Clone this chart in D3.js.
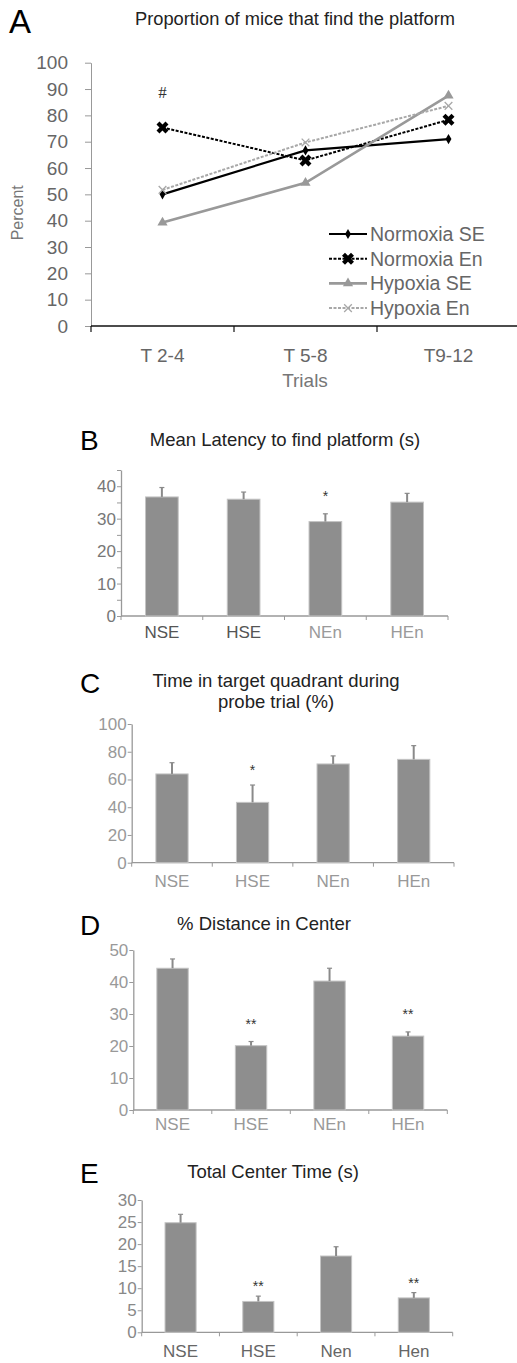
<!DOCTYPE html>
<html>
<head>
<meta charset="utf-8">
<script src="https://cdn.jsdelivr.net/npm/d3@7"></script>
<style>
  body { margin: 0; background: #fff; }
  svg { display: block; font-family: "Liberation Sans", Arial, Helvetica, sans-serif; }
</style>
</head>
<body>
<div id="chart"></div>
<script>
// panel A data
const trials = ['T 2-4', 'T 5-8', 'T9-12']
const percentTicks = [0, 10, 20, 30, 40, 50, 60, 70, 80, 90, 100]
const normoxiaSE = [50, 66.7, 71]
const normoxiaEn = [75.4, 62.9, 78.3]
const hypoxiaSE = [39.3, 54.4, 87.5]
const hypoxiaEn = [51.7, 69.7, 83.6]
const seriesNames = ['Normoxia SE', 'Normoxia En', 'Hypoxia SE', 'Hypoxia En']

// panels B-E data
const groups = ['NSE', 'HSE', 'NEn', 'HEn']
const groupsE = ['NSE', 'HSE', 'Nen', 'Hen']
const latencyMean = [36.7, 36.0, 29.1, 35.1]
const latencyErr = [2.9, 2.2, 2.4, 2.7]
const latencySig = ['', '', '*', '']
const latencyTicks = [0, 5, 10, 15, 20, 25, 30, 35, 40, 45]
const quadrantMean = [64, 43.5, 71.2, 74.5]
const quadrantErr = [8.1, 12.5, 5.8, 9.9]
const quadrantSig = ['', '*', '', '']
const quadrantTicks = [0, 20, 40, 60, 80, 100]
const distanceMean = [44.3, 20.1, 40.3, 23.1]
const distanceErr = [2.9, 1.3, 4.0, 1.3]
const distanceSig = ['', '**', '', '**']
const distanceTicks = [0, 10, 20, 30, 40, 50]
const centerMean = [24.85, 7.0, 17.3, 7.8]
const centerErr = [1.9, 1.2, 2.1, 1.2]
const centerSig = ['', '**', '', '**']
const centerTicks = [0, 5, 10, 15, 20, 25, 30]

const W = 517
const H = 1363
const svg = d3.select('#chart').append('svg')
  .attr('width', W)
  .attr('height', H)

// ---------- panel A ----------
const xA = d3.scaleBand().domain(trials).range([91, 520])
const yA = d3.scaleLinear().domain([0, 100]).range([326, 62.7])
const cx = d => xA(d) + xA.bandwidth() / 2

svg.append('text').attr('x', 9).attr('y', 33)
  .style('font-size', '33px').text('A')
svg.append('text').attr('x', 295).attr('y', 25)
  .attr('text-anchor', 'middle').style('font-size', '18.3px').style('fill', '#222')
  .text('Proportion of mice that find the platform')

let yAxisA = svg.append('g').attr('transform', 'translate(91,0)')
  .call(d3.axisLeft(yA).tickValues(percentTicks).tickSize(6).tickPadding(17).tickSizeOuter(0))
yAxisA.select('.domain').attr('stroke', '#999')
yAxisA.selectAll('.tick line').attr('stroke', '#999')
yAxisA.selectAll('.tick text').style('font-size', '19px').style('fill', '#666')
  .style('font-family', '"Liberation Sans", Arial, sans-serif')

// x axis with ticks at band edges
svg.append('line').attr('x1', 91).attr('x2', W).attr('y1', yA(0)).attr('y2', yA(0))
  .attr('stroke', '#111').attr('stroke-width', 1.5)
svg.selectAll('.xtickA').data(trials).enter().append('line')
  .attr('x1', d => xA(d)).attr('x2', d => xA(d))
  .attr('y1', yA(0)).attr('y2', yA(0) + 6)
  .attr('stroke', '#111').attr('stroke-width', 1.2)
svg.selectAll('.xlabA').data(trials).enter().append('text')
  .attr('x', cx).attr('y', 362).attr('text-anchor', 'middle')
  .style('font-size', '19px').style('fill', '#666').text(d => d)
svg.append('text').attr('x', 305).attr('y', 387).attr('text-anchor', 'middle')
  .style('font-size', '19px').style('fill', '#777').text('Trials')
svg.append('text').attr('transform', 'translate(23,' + yA(43) + ') rotate(-90)')
  .attr('text-anchor', 'middle').style('font-size', '16px').style('fill', '#777').text('Percent')
svg.append('text').attr('x', cx(trials[0])).attr('y', yA(86.5)).attr('text-anchor', 'middle')
  .style('font-size', '17px').style('font-family', '"Liberation Serif", serif').style('fill', '#333').text('#')

const series = [
  { name: seriesNames[0], values: normoxiaSE, color: '#000', dash: null, width: 2.2, marker: 'diamond' },
  { name: seriesNames[1], values: normoxiaEn, color: '#000', dash: '3,1.5', width: 2, marker: 'boldx' },
  { name: seriesNames[2], values: hypoxiaSE, color: '#999', dash: null, width: 2.6, marker: 'triangle' },
  { name: seriesNames[3], values: hypoxiaEn, color: '#a8a8a8', dash: '3,1.5', width: 2, marker: 'x' }
]

function drawMarker (g, type, color) {
  if (type === 'diamond') {
    g.append('path').attr('d', d3.symbol(d3.symbolDiamond, 30)())
      .attr('fill', color)
  } else if (type === 'boldx') {
    g.append('path').attr('d', d3.symbol(d3.symbolCross, 90)())
      .attr('transform', 'rotate(45)').attr('fill', color)
  } else if (type === 'triangle') {
    g.append('path').attr('d', d3.symbol(d3.symbolTriangle, 45)())
      .attr('fill', color)
  } else {
    g.append('path').attr('d', d3.symbol(d3.symbolX, 40)())
      .attr('fill', 'none').attr('stroke', color).attr('stroke-width', 1.3)
  }
}

let line = d3.line().x((d, i) => cx(trials[i])).y(d => yA(d))
series.forEach(function (s) {
  svg.append('path').datum(s.values)
    .attr('d', line)
    .attr('fill', 'none')
    .attr('stroke', s.color)
    .attr('stroke-width', s.width)
    .attr('stroke-dasharray', s.dash)
  s.values.forEach(function (v, i) {
    let m = svg.append('g').attr('transform', 'translate(' + cx(trials[i]) + ',' + yA(v) + ')')
    drawMarker(m, s.marker, s.color)
  })
})

// legend
series.forEach(function (s, i) {
  let ly = 234 + i * 24.7
  let lg = svg.append('g').attr('transform', 'translate(0,' + ly + ')')
  lg.append('line').attr('x1', 329).attr('x2', 367).attr('y1', 0).attr('y2', 0)
    .attr('stroke', s.color).attr('stroke-width', s.width).attr('stroke-dasharray', s.dash)
  let m = lg.append('g').attr('transform', 'translate(348,0)')
  drawMarker(m, s.marker, s.color)
  lg.append('text').attr('x', 370).attr('y', 7).style('font-size', '19.5px')
    .style('fill', '#666').text(s.name)
})

// ---------- bar panels ----------
function barPanel (cfg) {
  let g = svg.append('g')
  let x = d3.scaleBand().domain(cfg.groups).range([cfg.left, cfg.right])
  let y = d3.scaleLinear().domain([0, cfg.max]).range([cfg.bottom, cfg.top])
  let bw = x.bandwidth()

  g.append('text').attr('x', 80).attr('y', cfg.letterY)
    .style('font-size', '28px').text(cfg.letter)
  cfg.title.forEach(function (t, i) {
    g.append('text').attr('x', cfg.titleX).attr('y', cfg.titleY + i * 21.5)
      .attr('text-anchor', 'middle').style('font-size', '18.5px').style('fill', '#222').text(t)
  })

  let ax = g.append('g').attr('transform', 'translate(' + cfg.left + ',0)')
    .call(d3.axisLeft(y).tickValues(cfg.ticks).tickSize(4).tickPadding(1).tickSizeOuter(0)
      .tickFormat(d => (d % cfg.labelStep === 0 ? d : '')))
  ax.select('.domain').attr('stroke', '#999').attr('stroke-width', 1.3)
  ax.selectAll('.tick line').attr('stroke', '#999')
  ax.selectAll('.tick text').style('font-size', '17px').style('fill', cfg.tickColor)
    .style('font-family', '"Liberation Sans", Arial, sans-serif')

  g.append('line').attr('x1', cfg.left).attr('x2', cfg.right)
    .attr('y1', cfg.bottom).attr('y2', cfg.bottom)
    .attr('stroke', '#999').attr('stroke-width', 1.3)
  g.selectAll('.xt').data(cfg.groups.concat(['end'])).enter().append('line')
    .attr('x1', d => (d === 'end' ? cfg.right : x(d)))
    .attr('x2', d => (d === 'end' ? cfg.right : x(d)))
    .attr('y1', cfg.bottom).attr('y2', cfg.bottom + 4)
    .attr('stroke', '#999')

  g.selectAll('.bar').data(cfg.mean).enter().append('rect')
    .attr('x', (d, i) => x(cfg.groups[i]) + bw * 0.3)
    .attr('width', bw * 0.4)
    .attr('y', d => y(d))
    .attr('height', d => cfg.bottom - y(d))
    .attr('fill', '#8e8e8e')
    .attr('stroke', '#c4c4c4')
    .attr('stroke-width', 1)

  cfg.mean.forEach(function (m, i) {
    let c = x(cfg.groups[i]) + bw / 2
    let top = y(m + cfg.err[i])
    g.append('line').attr('x1', c).attr('x2', c).attr('y1', y(m)).attr('y2', top)
      .attr('stroke', '#8a8a8a').attr('stroke-width', 2)
    g.append('line').attr('x1', c - 2.5).attr('x2', c + 2.5).attr('y1', top).attr('y2', top)
      .attr('stroke', '#8a8a8a').attr('stroke-width', 1.2)
    if (cfg.sig[i]) {
      g.append('text').attr('x', c).attr('y', top - cfg.sigGap).attr('text-anchor', 'middle')
        .style('font-size', '14px').style('fill', '#333').text(cfg.sig[i])
    }
  })

  g.selectAll('.xl').data(cfg.groups).enter().append('text')
    .attr('x', d => x(d) + bw / 2).attr('y', cfg.labelY).attr('text-anchor', 'middle')
    .style('font-size', '17px').style('fill', (d, i) => cfg.labelColors[i]).text(d => d)
}

barPanel({
  letter: 'B', letterY: 450, title: ['Mean Latency to find platform (s)'], titleX: 285, titleY: 446,
  groups: groups, mean: latencyMean, err: latencyErr, sig: latencySig,
  ticks: latencyTicks, labelStep: 10, max: 45,
  left: 121, right: 448, bottom: 616, top: 470, labelY: 638, sigGap: 13,
  tickColor: '#777', labelColors: ['#555', '#555', '#9a9a9a', '#9a9a9a']
})

barPanel({
  letter: 'C', letterY: 693, title: ['Time in target quadrant during', 'probe trial (%)'], titleX: 276, titleY: 686.7,
  groups: groups, mean: quadrantMean, err: quadrantErr, sig: quadrantSig,
  ticks: quadrantTicks, labelStep: 20, max: 100,
  left: 131.7, right: 454, bottom: 862.7, top: 724, labelY: 887, sigGap: 10,
  tickColor: '#999', labelColors: ['#999', '#999', '#999', '#999']
})

barPanel({
  letter: 'D', letterY: 935, title: ['% Distance in Center'], titleX: 264, titleY: 930,
  groups: groups, mean: distanceMean, err: distanceErr, sig: distanceSig,
  ticks: distanceTicks, labelStep: 10, max: 50,
  left: 133.3, right: 447.3, bottom: 1110, top: 950, labelY: 1130, sigGap: 13,
  tickColor: '#999', labelColors: ['#999', '#999', '#999', '#999']
})

barPanel({
  letter: 'E', letterY: 1183, title: ['Total Center Time (s)'], titleX: 273, titleY: 1178,
  groups: groupsE, mean: centerMean, err: centerErr, sig: centerSig,
  ticks: centerTicks, labelStep: 5, max: 30,
  left: 141.7, right: 452.7, bottom: 1332.3, top: 1200, labelY: 1357, sigGap: 5,
  tickColor: '#888', labelColors: ['#666', '#666', '#666', '#666']
})
</script>
</body>
</html>
